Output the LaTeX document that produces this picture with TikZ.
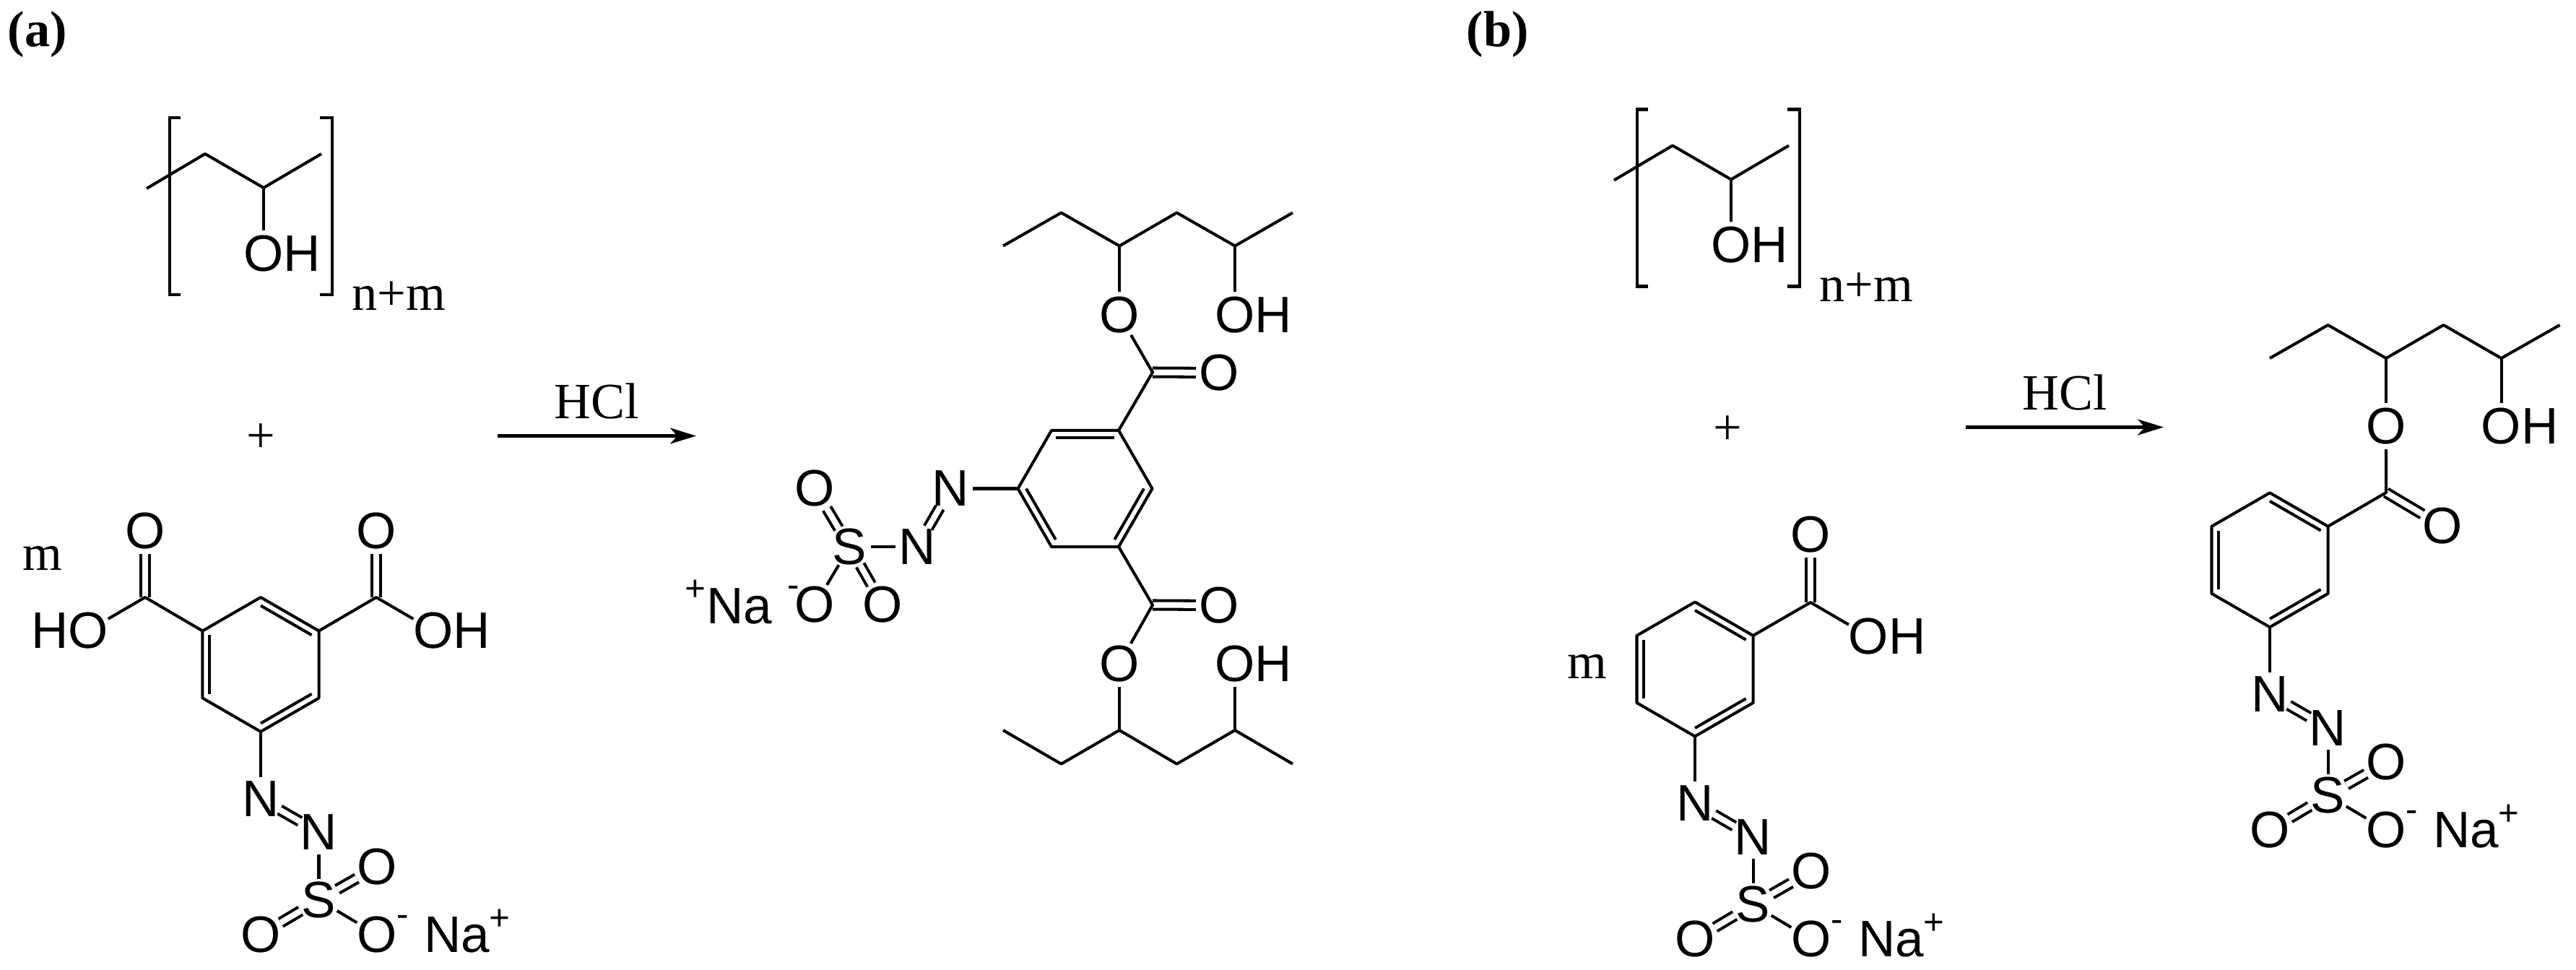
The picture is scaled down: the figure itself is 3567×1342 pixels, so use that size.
\documentclass[tikz,border=0pt]{standalone}
\usepackage{fontspec}
\usepackage{tikz}
\usetikzlibrary{arrows.meta}
\setmainfont{Liberation Serif}
\setsansfont{Liberation Sans}
\newcommand{\hydroxy}{\rlap{\hskip-.389em OH}}
\newcommand{\hydroxyleft}{\llap{HO\hskip-.389em}}

\begin{document}
\begin{tikzpicture}[x=0.01cm,y=-0.01cm,
        bond/.style={line width=1.15pt,line join=round},
        doublebond/.style={bond,double,double distance=0.08cm},
        bracket/.style={line width=1.25pt,line join=miter},
        reaction/.style={line width=1.25pt,-{Stealth[length=0.36cm,width=0.22cm,inset=0.1cm]}},
        atom/.style={circle,inner sep=0pt,outer sep=-0.05cm,font=\fontsize{20.2}{24}\selectfont\sffamily},
        hydroxyl/.style={atom,outer sep=0pt,minimum size=0.64cm},
        sodium/.style={inner sep=0pt,font=\fontsize{20.2}{24}\selectfont\sffamily},
        charge/.style={inner sep=0pt,font=\fontsize{14}{16}\selectfont\sffamily},
        serif/.style={inner sep=0pt,font=\fontsize{20}{24}\selectfont},
        panel/.style={inner sep=0pt,font=\fontsize{20}{24}\selectfont\bfseries}]
        \useasboundingbox (0,0) rectangle (3567,1342);

        % Panel labels
        \node[panel,anchor=base west] (label-a) at (10,64) {(a)};
        \node[panel,anchor=base west] (label-b) at (2030,64) {(b)};

        % Polymer in brackets
        \foreach \mol/\bx/\by in {a/0/0,b/2032/-11.5} {
            \begin{scope}[shift={(\bx,\by)}]
                \coordinate (\mol-p0) at (203,261);
                \coordinate (\mol-p1) at (284,213);
                \coordinate (\mol-p2) at (365,260);
                \coordinate (\mol-p3) at (445,213);
                \node[hydroxyl] (\mol-poh) at (365,351) {\hydroxy};
                \draw[bond] (\mol-p0) -- (\mol-p1) -- (\mol-p2) -- (\mol-p3);
                \draw[bond] (\mol-p2) -- (\mol-poh);
                \draw[bracket] (250,163) -- (235,163) -- (235,408) -- (250,408);
                \draw[bracket] (443,163) -- (460,163) -- (460,408) -- (443,408);
                \node[serif,anchor=base west] (\mol-nm) at (487,429) {n+m};
            \end{scope}
        }

        % Plus signs, m and reaction arrows
        \node[serif] (a-plus) at (361,607) {+};
        \node[serif] (b-plus) at (2392,596) {+};
        \node[serif,anchor=base west] (a-m) at (31,789) {m};
        \node[serif,anchor=base west] (b-m) at (2170,939) {m};
        \coordinate (a-start) at (689,603.5);
        \coordinate (a-end) at (964,603.5);
        \coordinate (b-start) at (2722,591.5);
        \coordinate (b-end) at (2996,591.5);
        \draw[reaction] (a-start) -- (a-end);
        \draw[reaction] (b-start) -- (b-end);
        \node[serif,anchor=base west] (a-hcl) at (767,579) {HCl};
        \node[serif,anchor=base west] (b-hcl) at (2800,567) {HCl};

        % Rings with their azo sulfonate groups
        \foreach \mol/\cx/\cy/\rot in {ra/361/920/0,pa/1502.5/676.5/-90,rb/2347/926.5/0,pb/3143/775.3/0} {
            \begin{scope}[shift={(\cx,\cy)},rotate=\rot]
                \foreach \k in {0,...,5} {
                    \coordinate (\mol-r\k) at (60*\k-90:93);
                    \coordinate (\mol-i\k) at (60*\k-90:81.5);
                }
                \draw[bond] (\mol-r0) -- (\mol-r1) -- (\mol-r2) -- (\mol-r3) -- (\mol-r4) -- (\mol-r5) -- cycle;
                \foreach \i/\j in {0/1,2/3,4/5} {
                    \draw[bond] (\mol-i\i) -- (\mol-i\j);
                }
            \end{scope}
            \begin{scope}[shift={(\mol-r3)},rotate=\rot]
                \node[atom] (\mol-n1) at (0,93) {N};
                \node[atom] (\mol-n2) at (80.5,139.5) {N};
                \node[atom] (\mol-s) at (80.5,233) {S};
                \node[atom] (\mol-o1) at (161,187) {O};
                \node[atom] (\mol-o2) at (0,281) {O};
                \node[atom] (\mol-o3) at (161,281) {O};
                \draw[bond] (\mol-r3) -- (\mol-n1);
                \draw[doublebond] (\mol-n1) -- (\mol-n2);
                \draw[bond] (\mol-n2) -- (\mol-s);
                \draw[doublebond] (\mol-s) -- (\mol-o1);
                \draw[doublebond] (\mol-s) -- (\mol-o2);
                \draw[bond] (\mol-s) -- (\mol-o3);
            \end{scope}
        }

        % Sodium counter ions
        \foreach \mol in {ra,rb,pb} {
            \begin{scope}[shift={(\mol-r3)}]
                \node[charge] (\mol-minus) at (197,262) {-};
                \node[sodium] (\mol-na) at (272,281) {Na};
                \node[charge] (\mol-plus) at (331,260) {+};
            \end{scope}
        }
        \node[charge] (pa-minus) at (1098.5,819) {-};
        \node[sodium] (pa-na) at (1024,839) {Na};
        \node[charge] (pa-plus) at (963,817) {+};

        % Carboxyl groups of the reagents
        \coordinate (ra-c1) at (201,827);
        \coordinate (ra-c2) at (521,827);
        \coordinate (rb-c1) at (2507,834);
        \node[atom] (ra-co1) at (201,735) {O};
        \node[atom] (ra-co2) at (521,735) {O};
        \node[atom] (rb-co1) at (2507,740) {O};
        \node[hydroxyl] (ra-oh1) at (122,873) {\hydroxyleft};
        \node[hydroxyl] (ra-oh2) at (600,873) {\hydroxy};
        \node[hydroxyl] (rb-oh1) at (2587.5,881) {\hydroxy};
        \draw[doublebond] (ra-c1) -- (ra-co1);
        \draw[doublebond] (ra-c2) -- (ra-co2);
        \draw[doublebond] (rb-c1) -- (rb-co1);
        \draw[bond] (ra-r5) -- (ra-c1) -- (ra-oh1);
        \draw[bond] (ra-r1) -- (ra-c2) -- (ra-oh2);
        \draw[bond] (rb-r1) -- (rb-c1) -- (rb-oh1);

        % Ester chains of product (a)
        \foreach \s/\v/\yc/\yk/\ye/\ya/\yb in {t/5/515.5/516/436/340.5/294.5,l/1/837.5/838/919/1011/1057.7} {
            \coordinate (pa-c\s) at (1596,\yc);
            \node[atom] (pa-k\s) at (1688,\yk) {O};
            \node[atom] (pa-e\s) at (1550,\ye) {O};
            \node[hydroxyl] (pa-oh\s) at (1710,\ye) {\hydroxy};
            \coordinate (pa-\s0) at (1389,\ya);
            \coordinate (pa-\s1) at (1469.5,\yb);
            \coordinate (pa-\s2) at (1550,\ya);
            \coordinate (pa-\s3) at (1629.5,\yb);
            \coordinate (pa-\s4) at (1710,\ya);
            \coordinate (pa-\s5) at (1790,\yb);
            \draw[doublebond] (pa-c\s) -- (pa-k\s);
            \draw[bond] (pa-r\v) -- (pa-c\s) -- (pa-e\s);
            \draw[bond] (pa-e\s) -- (pa-\s2);
            \draw[bond] (pa-\s0) -- (pa-\s1) -- (pa-\s2) -- (pa-\s3) -- (pa-\s4) -- (pa-\s5);
            \draw[bond] (pa-\s4) -- (pa-oh\s);
        }

        % Ester chain of product (b)
        \coordinate (pb-c) at (3304,682);
        \node[atom] (pb-k) at (3382,728.5) {O};
        \node[atom] (pb-e) at (3304,590) {O};
        \node[hydroxyl] (pb-oh) at (3463.5,590) {\hydroxy};
        \coordinate (pb-t0) at (3143,496);
        \coordinate (pb-t1) at (3223.5,450);
        \coordinate (pb-t2) at (3304,496);
        \coordinate (pb-t3) at (3383.5,450);
        \coordinate (pb-t4) at (3463.5,496);
        \coordinate (pb-t5) at (3544.5,450);
        \draw[doublebond] (pb-c) -- (pb-k);
        \draw[bond] (pb-r1) -- (pb-c) -- (pb-e);
        \draw[bond] (pb-e) -- (pb-t2);
        \draw[bond] (pb-t0) -- (pb-t1) -- (pb-t2) -- (pb-t3) -- (pb-t4) -- (pb-t5);
        \draw[bond] (pb-t4) -- (pb-oh);
    \end{tikzpicture}
\end{document}
